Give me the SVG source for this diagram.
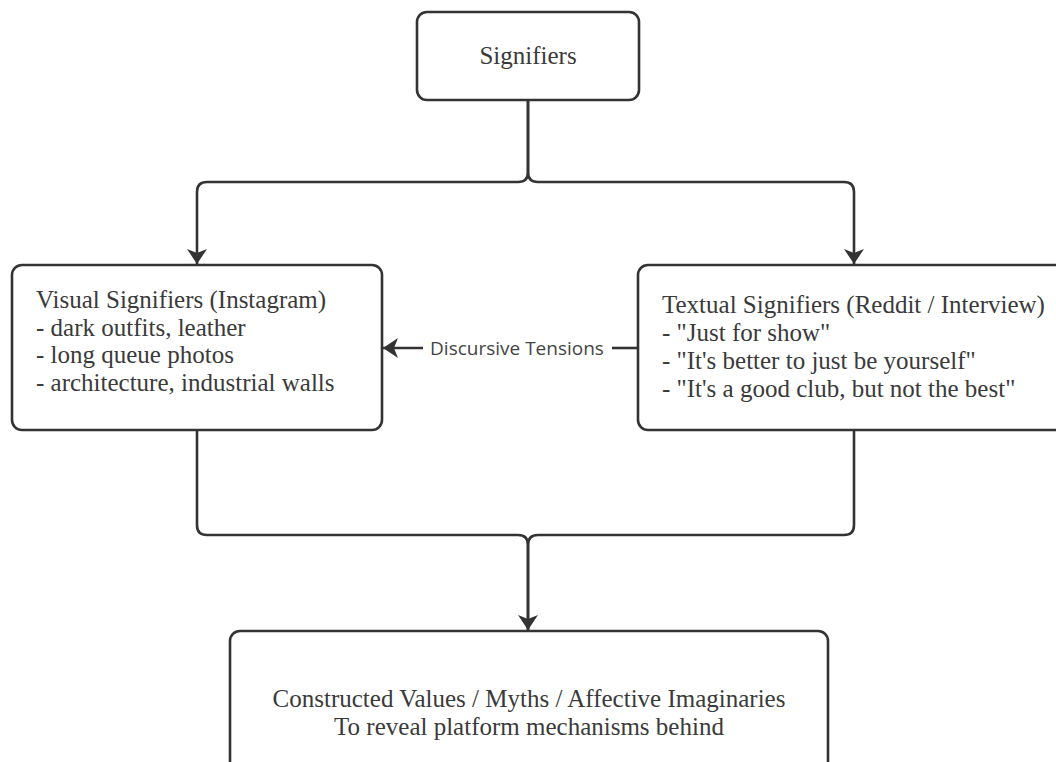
<svg xmlns="http://www.w3.org/2000/svg" width="1056" height="762" viewBox="0 0 1056 762">
  <defs>
    <marker id="arrow" markerUnits="userSpaceOnUse" markerWidth="16" markerHeight="22" viewBox="0 0 16 22" refX="15" refY="11" orient="auto">
      <path d="M0,1 L15,11 L0,21 L4,11 z" fill="#333"/>
    </marker>
    <style>
      .box { fill: #fff; stroke: #333; stroke-width: 2.6; }
      .conn { fill: none; stroke: #333; stroke-width: 2.6; }
      .t { font-family: "Liberation Serif", "Times New Roman", serif; font-size: 25px; fill: #3a3a3a; }
      .lbl { font-family: "Open Sans", "Noto Sans", sans-serif; font-size: 19px; fill: #444; }
    </style>
  </defs>
  <rect width="1056" height="762" fill="#fff"/>

  <g id="connectors">
    <path class="conn" d="M528,100 V172 Q528,182 518,182 H207 Q197,182 197,192 V264" marker-end="url(#arrow)"/>
    <path class="conn" d="M528,100 V172 Q528,182 538,182 H844 Q854,182 854,192 V264" marker-end="url(#arrow)"/>
    <path class="conn" d="M197,430 V525 Q197,535 207,535 H518 Q528,535 528,545 V630" marker-end="url(#arrow)"/>
    <path class="conn" d="M854,430 V525 Q854,535 844,535 H538 Q528,535 528,545 V630"/>
    <path class="conn" d="M638,348 H612"/>
    <path class="conn" d="M423,348 H383" marker-end="url(#arrow)"/>
    <text class="lbl" x="517" y="355" text-anchor="middle">Discursive Tensions</text>
  </g>

  <g id="node-signifiers">
    <rect class="box" x="417" y="12" width="222" height="88" rx="10"/>
    <text class="t" x="528" y="64" text-anchor="middle">Signifiers</text>
  </g>

  <g id="node-visual">
    <rect class="box" x="12" y="265" width="370" height="165" rx="10"/>
    <text class="t" x="36" y="308">Visual Signifiers (Instagram)</text>
    <text class="t" x="36" y="335.5">- dark outfits, leather</text>
    <text class="t" x="36" y="363">- long queue photos</text>
    <text class="t" x="36" y="390.5">- architecture, industrial walls</text>
  </g>

  <g id="node-textual">
    <rect class="box" x="638" y="265" width="440" height="165" rx="10"/>
    <text class="t" x="662" y="313">Textual Signifiers (Reddit / Interview)</text>
    <text class="t" x="662" y="341">- "Just for show"</text>
    <text class="t" x="662" y="369">- "It's better to just be yourself"</text>
    <text class="t" x="662" y="397">- "It's a good club, but not the best"</text>
  </g>

  <g id="node-constructed">
    <rect class="box" x="230" y="631" width="598" height="160" rx="10"/>
    <text class="t" x="529" y="707" text-anchor="middle">Constructed Values / Myths / Affective Imaginaries</text>
    <text class="t" x="529" y="735" text-anchor="middle">To reveal platform mechanisms behind</text>
  </g>
</svg>
